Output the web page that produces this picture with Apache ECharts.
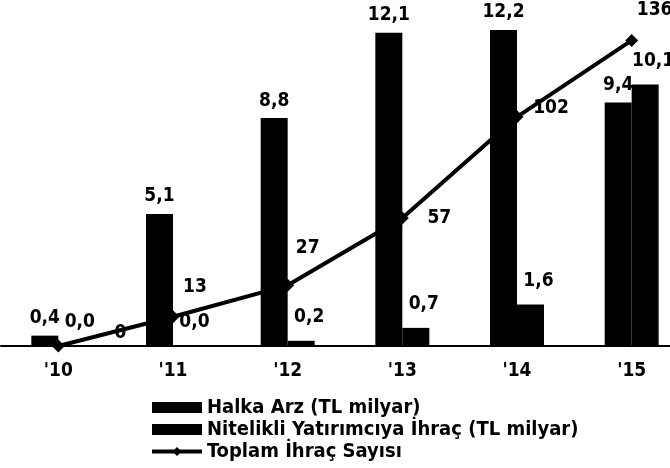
<!DOCTYPE HTML>
<html>
	<head>
		<meta charset="utf-8">
		<title></title>
		<style type="text/css">
			html, body { margin: 0; padding: 0; background: #fff; }
		</style>
	</head>
	<body>
		<div id="main" style="width: 670px;height:468px;"></div>
	</body>
	<script type="text/javascript" src="https://cdn.jsdelivr.net/npm/echarts@6/dist/echarts.min.js"></script>
	<script type="text/javascript">
		var years = ["'10", "'11", "'12", "'13", "'14", "'15"];
		var halkaArz = [0.4, 5.1, 8.8, 12.1, 12.2, 9.4];
		var nitelikli = [0.0, 0.0, 0.2, 0.7, 1.6, 10.1];
		var toplamIhrac = [0, 13, 27, 57, 102, 136];
		var seriesNames = ['Halka Arz (TL milyar)', 'Nitelikli Yatırımcıya İhraç (TL milyar)', 'Toplam İhraç Sayısı'];

		// label offsets for the line (hand placed like the source)
		var lineLabelOffset = [[62, -13], [22, -30], [20, -37], [37, 0], [34, -9], [23, -30]];

		var font = 'DejaVu Sans Condensed';
		function fmt(v) {
			return v.toFixed(1).replace('.', ',');
		}

		option = {
			animation : false,
			backgroundColor : '#fff',
			textStyle : { fontFamily : font, color : '#000' },
			legend : {
				orient : 'vertical',
				left : 150,
				top : 397,
				height : 71,
				padding : 0,
				itemGap : 1,
				itemWidth : 50,
				itemHeight : 11,
				textStyle : {
					fontFamily : font,
					fontWeight : 'bold',
					fontSize : 20,
					lineHeight : 21,
					color : '#000'
				},
				data : [{
					name : seriesNames[0],
					icon : 'rect'
				}, {
					name : seriesNames[1],
					icon : 'rect'
				}, {
					name : seriesNames[2],
					lineStyle : { width : 4 }
				}]
			},
			grid : {
				left : 1,
				top : 0,
				width : 688,
				height : 346,
				outerBoundsMode : 'none'
			},
			xAxis : {
				type : 'category',
				data : years,
				axisLine : { lineStyle : { color : '#000', width : 2 } },
				axisTick : { show : false },
				axisLabel : {
					margin : 16,
					fontSize : 19,
					fontWeight : 'bold',
					color : '#000',
					fontFamily : font
				}
			},
			yAxis : [{
				type : 'value',
				min : 0,
				max : 13.36,
				show : false,
				splitLine : { show : false }
			}, {
				type : 'value',
				min : 0,
				max : 154,
				show : false,
				splitLine : { show : false }
			}],
			series : [{
				name : seriesNames[0],
				type : 'bar',
				barWidth : 27,
				barGap : '0%',
				itemStyle : { color : '#000' },
				label : {
					show : true,
					position : 'top',
					distance : 8,
					fontSize : 19,
					fontWeight : 'bold',
					color : '#000',
					formatter : function(p) { return fmt(p.value); }
				},
				data : halkaArz
			}, {
				name : seriesNames[1],
				type : 'bar',
				barWidth : 27,
				itemStyle : { color : '#000' },
				label : {
					show : true,
					position : 'top',
					distance : 14,
					offset : [8, 0],
					fontSize : 19,
					fontWeight : 'bold',
					color : '#000',
					formatter : function(p) { return fmt(p.value); }
				},
				data : nitelikli
			}, {
				name : seriesNames[2],
				type : 'line',
				yAxisIndex : 1,
				symbol : 'diamond',
				symbolSize : 13,
				z : 5,
				lineStyle : { color : '#000', width : 4 },
				itemStyle : { color : '#000' },
				data : toplamIhrac.map(function(v, i) {
					return {
						value : v,
						label : {
							show : true,
							position : 'inside',
							offset : lineLabelOffset[i],
							fontSize : 19,
							fontWeight : 'bold',
							color : '#000'
						}
					};
				})
			}]
		};

		var myChart = echarts.init(document.getElementById('main'));
		myChart.setOption(option);
	</script>
</html>
